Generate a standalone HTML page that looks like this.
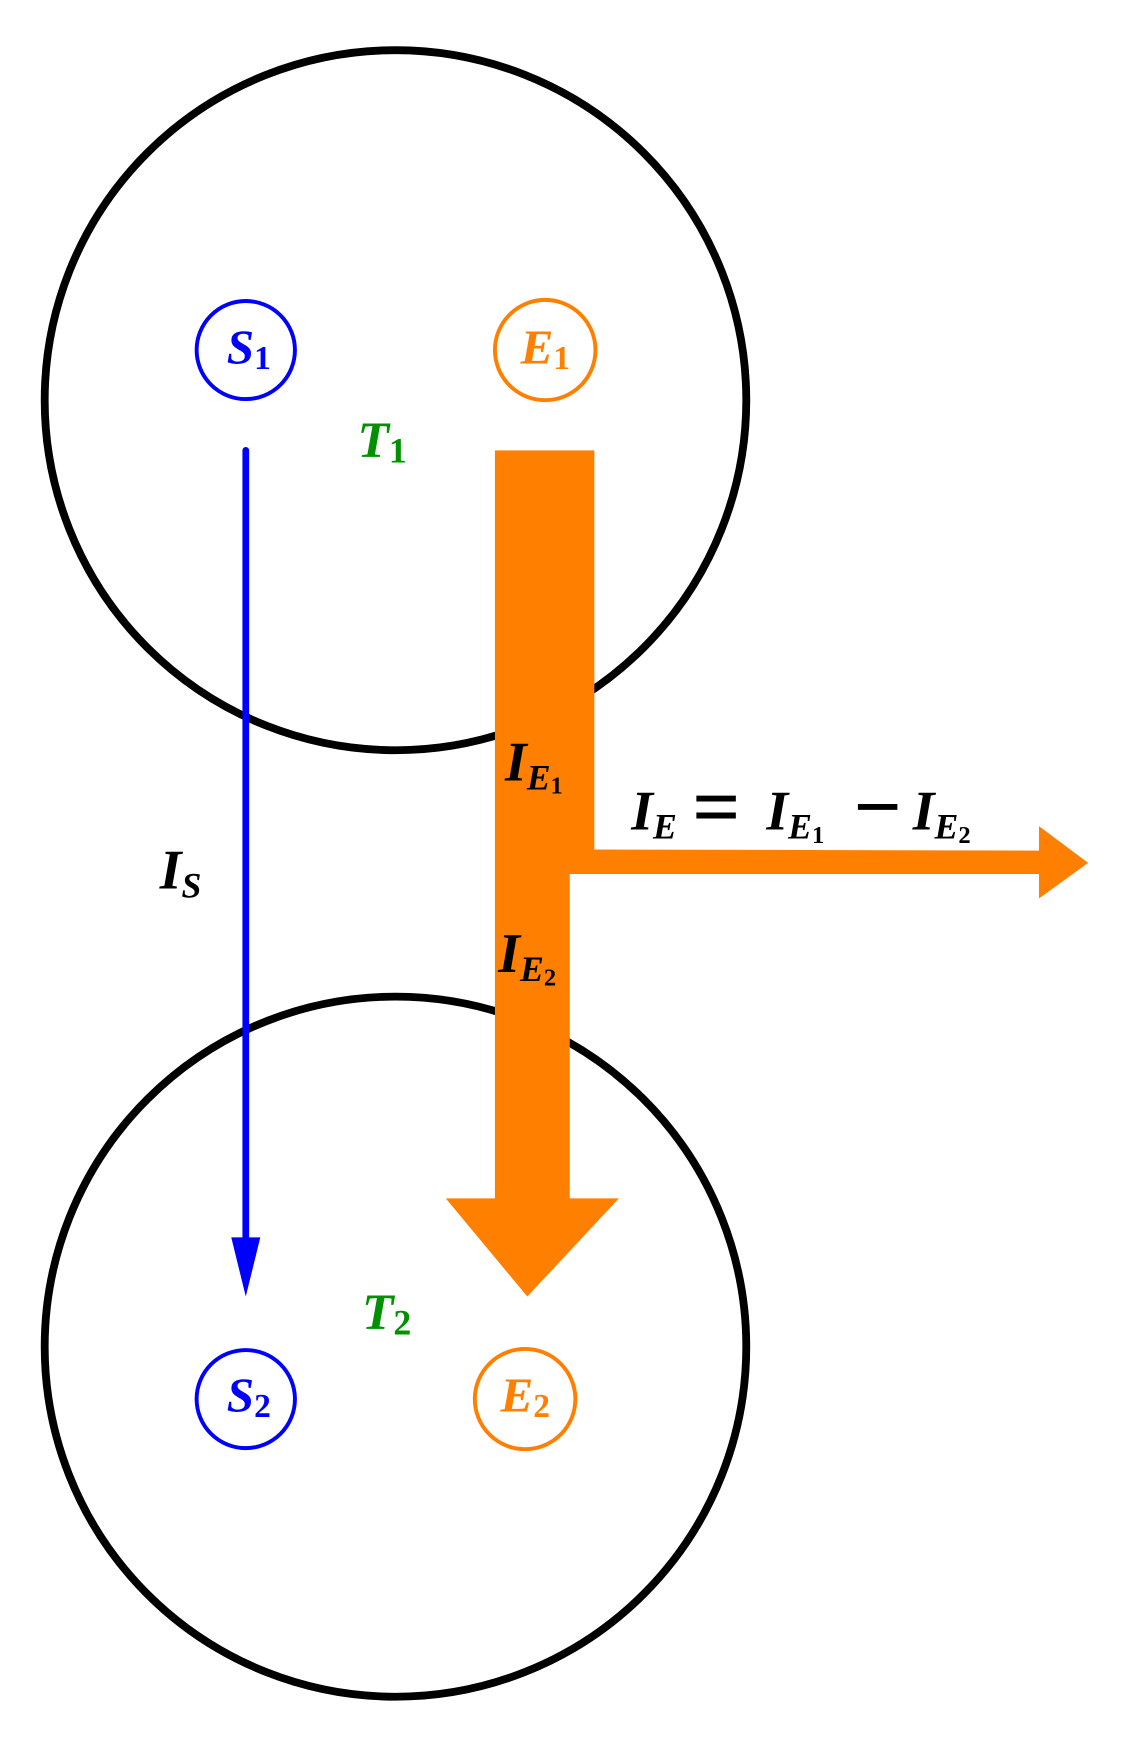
<!DOCTYPE html>
<html><head><meta charset="utf-8"><style>
html,body{margin:0;padding:0;background:#fff;}
svg{display:block;}
text{font-family:"Liberation Serif",serif;font-style:italic;font-weight:bold;}
</style></head><body>
<svg width="1144" height="1748" viewBox="0 0 1024 1568" preserveAspectRatio="none" xmlns="http://www.w3.org/2000/svg">
<rect width="1024" height="1568" fill="#fff"/>
<circle cx="354" cy="359" r="314" fill="none" stroke="#000" stroke-width="7"/>
<circle cx="354" cy="1208" r="314" fill="none" stroke="#000" stroke-width="7"/>
<line x1="220" y1="404" x2="220" y2="1115" stroke="#0000ff" stroke-width="6" stroke-linecap="round"/>
<polygon points="207,1110 233,1110 220,1163" fill="#0000ff"/>
<polygon points="443,404 532,404 532,762 930,763 930,741 974,774 930,806 930,784 510,784 510,1075 554,1075 472,1163 399,1075 443,1075" fill="#ff8000"/>
<circle cx="220" cy="314" r="44" fill="none" stroke="#0000ff" stroke-width="3.5"/>
<circle cx="488" cy="314" r="45" fill="none" stroke="#ff8000" stroke-width="3.5"/>
<circle cx="220" cy="1255" r="44" fill="none" stroke="#0000ff" stroke-width="3.5"/>
<circle cx="470" cy="1255" r="45" fill="none" stroke="#ff8000" stroke-width="3.5"/>
<text x="203" y="326" font-size="44" fill="#0000ff">S<tspan font-size="30" dy="5" font-style="normal">1</tspan></text>
<text x="466" y="326" font-size="44" fill="#ff8000">E<tspan font-size="30" dy="5" font-style="normal">1</tspan></text>
<text x="203" y="1266" font-size="44" fill="#0000ff">S<tspan font-size="30" dy="5" font-style="normal">2</tspan></text>
<text x="448" y="1266" font-size="44" fill="#ff8000">E<tspan font-size="30" dy="5" font-style="normal">2</tspan></text>
<text x="320" y="410" font-size="46" fill="#009000">T<tspan font-size="32" dy="5" font-style="normal">1</tspan></text>
<text x="324" y="1192" font-size="46" fill="#009000">T<tspan font-size="32" dy="5" font-style="normal">2</tspan></text>
<text x="143" y="797" font-size="50" fill="#000">I<tspan font-size="32" dy="8">S</tspan></text>
<text x="452" y="700" font-size="50" fill="#000">I<tspan font-size="32" dy="8">E</tspan><tspan font-size="22" dy="4" font-style="normal">1</tspan></text>
<text x="446" y="872" font-size="50" fill="#000">I<tspan font-size="32" dy="8">E</tspan><tspan font-size="22" dy="4" font-style="normal">2</tspan></text>
<text x="565" y="744" font-size="50" fill="#000">I<tspan font-size="32" dy="8">E</tspan></text>
<text x="619" y="749" font-size="76" fill="#000" font-style="normal" font-weight="normal">=</text>
<text x="686" y="744" font-size="50" fill="#000">I<tspan font-size="32" dy="8">E</tspan><tspan font-size="22" dy="4" font-style="normal">1</tspan></text>
<text x="762" y="749" font-size="76" fill="#000" font-style="normal" font-weight="normal">−</text>
<text x="817" y="744" font-size="50" fill="#000">I<tspan font-size="32" dy="8">E</tspan><tspan font-size="22" dy="4" font-style="normal">2</tspan></text>
</svg>
</body></html>
